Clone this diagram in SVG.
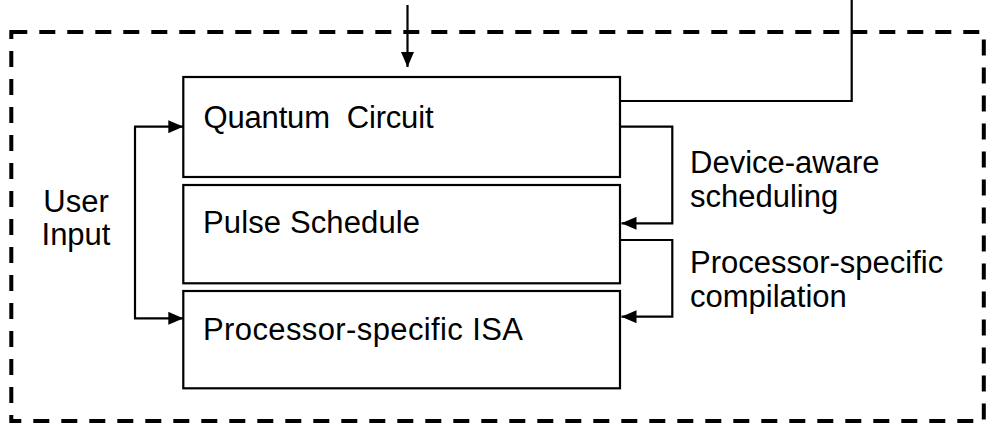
<svg xmlns="http://www.w3.org/2000/svg" width="986" height="425" viewBox="0 0 986 425">
  <style>
    .box { fill: #ffffff; stroke: #000000; stroke-width: 2.2; }
    .frame { fill: none; stroke: #000000; stroke-width: 4; stroke-dasharray: 16 12; }
    .wire { fill: none; stroke: #000000; stroke-width: 2.2; }
    .lbl { font-family: "Liberation Sans", Arial, sans-serif; font-size: 31px; fill: #000000; white-space: pre; }
  </style>
  <defs>
    <marker id="arrow" viewBox="0 0 15 13" refX="15" refY="6.5" markerWidth="15" markerHeight="13" markerUnits="userSpaceOnUse" orient="auto">
      <path d="M0,0 L15,6.5 L0,13 z" fill="#000000"/>
    </marker>
  </defs>

  <!-- dashed system boundary -->
  <rect class="frame" x="11.3" y="32" width="972.5" height="389"/>

  <g id="quantum-circuit">
    <rect class="box" x="183.3" y="77" width="436.7" height="100"/>
    <text class="lbl" x="203.5" y="127.5" textLength="230" xml:space="preserve">Quantum  Circuit</text>
  </g>

  <g id="pulse-schedule">
    <rect class="box" x="183.3" y="185" width="436.7" height="98.3"/>
    <text class="lbl" x="203" y="233.3" textLength="217">Pulse Schedule</text>
  </g>

  <g id="processor-isa">
    <rect class="box" x="183.3" y="291" width="436.7" height="97.3"/>
    <text class="lbl" x="203" y="340" textLength="320">Processor-specific ISA</text>
  </g>

  <g id="user-input">
    <text class="lbl" x="76" y="211.5" text-anchor="middle">User</text>
    <text class="lbl" x="76" y="245" text-anchor="middle">Input</text>
  </g>

  <g id="label-scheduling">
    <text class="lbl" x="690" y="173.3">Device-aware</text>
    <text class="lbl" x="690" y="207">scheduling</text>
  </g>

  <g id="label-compilation">
    <text class="lbl" x="690" y="273.3">Processor-specific</text>
    <text class="lbl" x="690" y="306.5">compilation</text>
  </g>

  <g id="connectors">
    <!-- incoming from above -->
    <path class="wire" d="M407.5,5 V67" marker-end="url(#arrow)"/>
    <!-- outgoing to the upper right -->
    <path class="wire" d="M620,101 H851.7 V0"/>
    <!-- circuit to pulse schedule -->
    <path class="wire" d="M620,126.7 H672.3 V223.3 H621.5" marker-end="url(#arrow)"/>
    <!-- pulse schedule to ISA -->
    <path class="wire" d="M620,240 H672.3 V316.7 H621.5" marker-end="url(#arrow)"/>
    <!-- user input, both ends -->
    <path class="wire" d="M135,126.7 V318.3"/>
    <path class="wire" d="M134,126.7 H183.3" marker-end="url(#arrow)"/>
    <path class="wire" d="M134,318.3 H183.3" marker-end="url(#arrow)"/>
  </g>
</svg>
